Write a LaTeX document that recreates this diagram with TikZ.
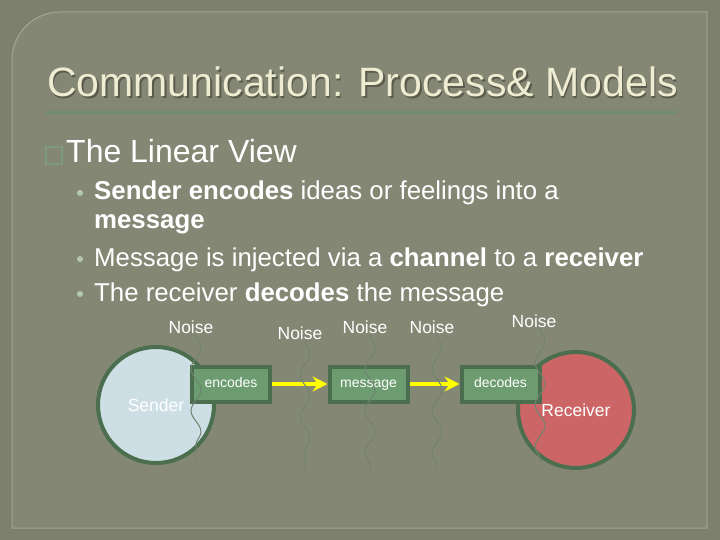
\documentclass[tikz,border=0pt]{standalone}
\usepackage{fontspec}
\setmainfont{Liberation Sans}
\usetikzlibrary{arrows.meta,decorations.pathmorphing}
\definecolor{outerbg}{HTML}{7E806F}
\definecolor{innerbg}{HTML}{858775}
\definecolor{panelline}{HTML}{A4A693}
\definecolor{rulegreen}{HTML}{6F8C72}
\definecolor{titlecol}{HTML}{EEEDD2}
\definecolor{shadowcol}{HTML}{5A5B4C}
\definecolor{dotcol}{HTML}{B5C7B0}
\definecolor{glyphcol}{HTML}{7D9A7F}
\definecolor{senderfill}{HTML}{CDDFE5}
\definecolor{receiverfill}{HTML}{CC6565}
\definecolor{darkgreen}{HTML}{4B6E4E}
\definecolor{boxfill}{HTML}{6C9C6F}
\definecolor{noisecol}{HTML}{71836F}
\definecolor{flowyellow}{HTML}{FFFF00}
\begin{document}
\begin{tikzpicture}[x=1pt,y=-1pt,
  titletext/.style={font=\fontsize{41}{41}\selectfont, inner sep=0pt, anchor=base},
  headtext/.style={font=\fontsize{32}{32}\selectfont, text=white, inner sep=0pt, anchor=base west},
  bullettext/.style={font=\fontsize{25.8}{25.8}\selectfont, text=white, inner sep=0pt, anchor=base west},
  bulletdot/.style={circle, fill=dotcol, inner sep=0pt, minimum size=6pt},
  circ/.style={circle, draw=darkgreen, line width=4pt, minimum size=116pt, inner sep=0pt,
               text=white, font=\fontsize{17.5}{17.5}\selectfont},
  stagebox/.style={rectangle, draw=darkgreen, fill=boxfill, line width=4pt,
               minimum width=78pt, minimum height=35pt, inner sep=0pt,
               text height=10pt, text depth=3pt,
               text=white, font=\fontsize{14}{14}\selectfont},
  noiselabel/.style={text=white, font=\fontsize{17.5}{17.5}\selectfont, inner sep=1pt},
  noiseline/.style={draw=noisecol, line width=1pt,
               decorate, decoration={snake, segment length=42pt, amplitude=5pt}},
  flow/.style={draw=flowyellow, line width=4pt, -{Stealth[length=15pt,width=15pt,inset=5pt]}},
]
\useasboundingbox (0,0) rectangle (720,540);
\fill[outerbg] (0,0) rectangle (720,540);
\draw[panelline, fill=innerbg, line width=1pt] (12,528) -- (12,60) arc (180:270:48) -- (707,12) -- (707,528) -- cycle;

% title
\node[titletext, text=shadowcol] (titleshadow) at (364,99) {Communication: Process\& Models};
\node[titletext, text=titlecol] (title) at (362.5,97) {Communication: Process\& Models};
\draw[rulegreen, line width=3pt] (46,113) -- (677,113);

% heading
\draw[glyphcol, line width=2pt] (46,147) rectangle (62,164);
\node[headtext] (head) at (66,163) {The Linear View};

% bullets
\node[bulletdot] (d1) at (80,193) {};
\node[bullettext] (b1) at (94,200) {\textbf{Sender encodes} ideas or feelings into a};
\node[bullettext] (b1b) at (94,229) {\textbf{message}};
\node[bulletdot] (d2) at (80,259) {};
\node[bullettext] (b2) at (94,266) {Message is injected via a \textbf{channel} to a \textbf{receiver}};
\node[bulletdot] (d3) at (80,294) {};
\node[bullettext] (b3) at (94,301) {The receiver \textbf{decodes} the message};

% diagram
\node[circ, fill=senderfill] (sender) at (156,405) {Sender};
\node[circ, fill=receiverfill] (receiver) at (576,410) {\raisebox{-2pt}{Receiver}};
\node[stagebox] (enc) at (231,384) {encodes};
\node[stagebox] (msg) at (368.5,384) {message};
\node[stagebox] (dec) at (500.5,384) {decodes};
\draw[flow] (enc) -- (msg);
\draw[flow] (msg) -- (dec);

% noise
\node[noiselabel] (n1) at (191,327) {Noise};
\node[noiselabel] (n2) at (300,333) {Noise};
\node[noiselabel] (n3) at (365,327) {Noise};
\node[noiselabel] (n4) at (432,327) {Noise};
\node[noiselabel] (n5) at (534,321) {Noise};
\coordinate (e1) at (196,462);
\coordinate (e2) at (305,470);
\coordinate (e3) at (370,470);
\coordinate (e4) at (437,468);
\coordinate (e5) at (540,462);
\draw[noiseline] (e1 |- n1.south) -- (e1);
\draw[noiseline] (e2 |- n2.south) -- (e2);
\draw[noiseline] (e3 |- n3.south) -- (e3);
\draw[noiseline] (e4 |- n4.south) -- (e4);
\draw[noiseline] (e5 |- n5.south) -- (e5);
\end{tikzpicture}
\end{document}
